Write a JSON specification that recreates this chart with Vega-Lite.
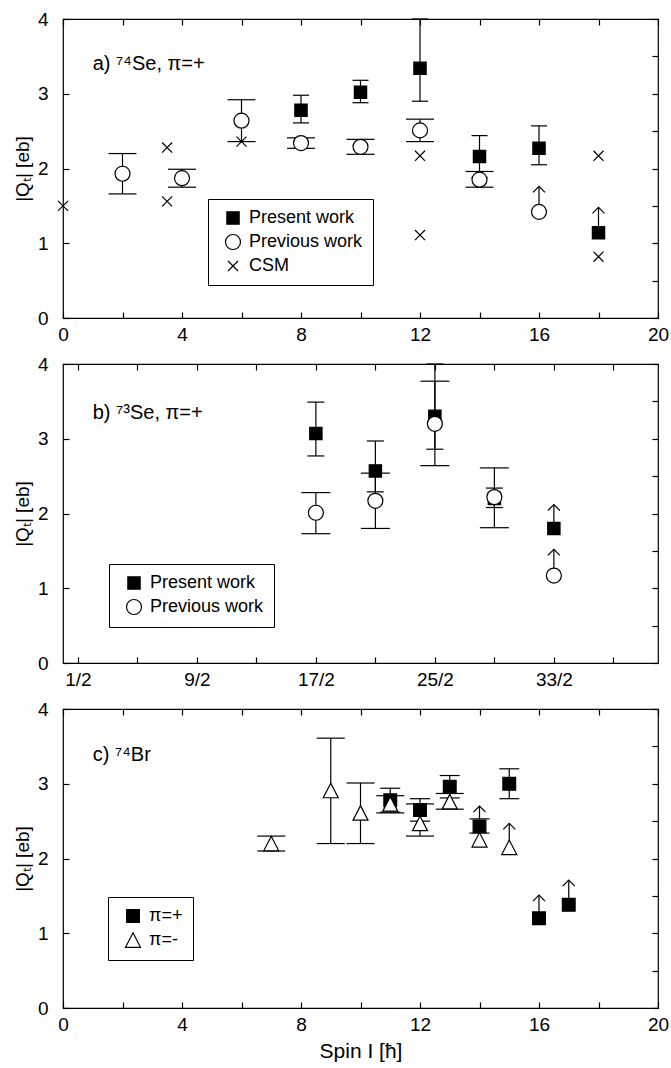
{
  "$schema": "https://vega.github.io/schema/vega-lite/v6.json",
  "background": "white",
  "padding": {"left": 12, "top": 9, "right": 2, "bottom": 0},
  "autosize": {"type": "pad"},
  "spacing": 46,
  "bounds": "flush",
  "resolve": {
    "scale": {"shape": "independent", "fill": "independent", "stroke": "independent"},
    "legend": {"shape": "independent", "fill": "independent", "stroke": "independent"}
  },
  "datasets": {
    "a": [
      {"series": "Present work", "x": 8, "y": 2.78, "lo": 2.61, "hi": 2.98},
      {"series": "Present work", "x": 10, "y": 3.02, "lo": 2.88, "hi": 3.18},
      {"series": "Present work", "x": 12, "y": 3.34, "lo": 2.9, "hi": 4.0},
      {"series": "Present work", "x": 14, "y": 2.16, "lo": 1.88, "hi": 2.44},
      {"series": "Present work", "x": 16, "y": 2.27, "lo": 2.05, "hi": 2.57},
      {"series": "Present work", "x": 18, "y": 1.14, "up": 1.48},
      {"series": "Previous work", "x": 2, "y": 1.93, "lo": 1.66, "hi": 2.2},
      {"series": "Previous work", "x": 4, "y": 1.87, "lo": 1.75, "hi": 1.99},
      {"series": "Previous work", "x": 6, "y": 2.64, "lo": 2.36, "hi": 2.92},
      {"series": "Previous work", "x": 8, "y": 2.34, "lo": 2.27, "hi": 2.41},
      {"series": "Previous work", "x": 10, "y": 2.29, "lo": 2.19, "hi": 2.39},
      {"series": "Previous work", "x": 12, "y": 2.51, "lo": 2.36, "hi": 2.66},
      {"series": "Previous work", "x": 14, "y": 1.85, "lo": 1.75, "hi": 1.96},
      {"series": "Previous work", "x": 16, "y": 1.42, "up": 1.76},
      {"series": "CSM", "x": 0, "y": 1.5},
      {"series": "CSM", "x": 3.5, "y": 2.28},
      {"series": "CSM", "x": 3.5, "y": 1.56},
      {"series": "CSM", "x": 6, "y": 2.36},
      {"series": "CSM", "x": 12, "y": 2.17},
      {"series": "CSM", "x": 12, "y": 1.11},
      {"series": "CSM", "x": 18, "y": 2.17},
      {"series": "CSM", "x": 18, "y": 0.82}
    ],
    "b": [
      {"series": "Present work", "x": 8.5, "y": 3.07, "lo": 2.77, "hi": 3.49},
      {"series": "Present work", "x": 10.5, "y": 2.57, "lo": 2.29, "hi": 2.97},
      {"series": "Present work", "x": 12.5, "y": 3.3, "lo": 2.86, "hi": 4.0},
      {"series": "Present work", "x": 14.5, "y": 2.2, "lo": 2.08, "hi": 2.34},
      {"series": "Present work", "x": 16.5, "y": 1.8, "up": 2.12},
      {"series": "Previous work", "x": 8.5, "y": 2.01, "lo": 1.73, "hi": 2.28},
      {"series": "Previous work", "x": 10.5, "y": 2.17, "lo": 1.8, "hi": 2.54},
      {"series": "Previous work", "x": 12.5, "y": 3.2, "lo": 2.64, "hi": 3.77},
      {"series": "Previous work", "x": 14.5, "y": 2.22, "lo": 1.81, "hi": 2.61},
      {"series": "Previous work", "x": 16.5, "y": 1.17, "up": 1.52}
    ],
    "c": [
      {"series": "π=+", "x": 11, "y": 2.78, "lo": 2.62, "hi": 2.94},
      {"series": "π=+", "x": 12, "y": 2.65, "lo": 2.5, "hi": 2.8},
      {"series": "π=+", "x": 13, "y": 2.96, "lo": 2.81, "hi": 3.11},
      {"series": "π=+", "x": 14, "y": 2.43, "lo": 2.34, "hi": 2.53, "up": 2.7},
      {"series": "π=+", "x": 15, "y": 3.0, "lo": 2.8, "hi": 3.2},
      {"series": "π=+", "x": 16, "y": 1.2, "up": 1.51},
      {"series": "π=+", "x": 17, "y": 1.38, "up": 1.71},
      {"series": "π=-", "x": 7, "y": 2.2, "lo": 2.1, "hi": 2.3},
      {"series": "π=-", "x": 9, "y": 2.91, "lo": 2.2, "hi": 3.61},
      {"series": "π=-", "x": 10, "y": 2.61, "lo": 2.2, "hi": 3.01},
      {"series": "π=-", "x": 11, "y": 2.73, "lo": 2.61, "hi": 2.84},
      {"series": "π=-", "x": 12, "y": 2.47, "lo": 2.3, "hi": 2.73},
      {"series": "π=-", "x": 13, "y": 2.76, "lo": 2.66, "hi": 2.87},
      {"series": "π=-", "x": 14, "y": 2.25},
      {"series": "π=-", "x": 15, "y": 2.15, "up": 2.47}
    ]
  },
  "vconcat": [
    {
      "width": 595, "height": 299,
      "data": {"name": "a"},
      "resolve": {"axis": {"x": "independent", "y": "independent"}},
      "layer": [
        {
          "transform": [{"filter": "isValid(datum.lo)"}],
          "mark": {"type": "rule", "stroke": "black", "strokeWidth": 1.2},
          "encoding": {
            "x": {"field": "x", "type": "quantitative", "scale": {"domain": [0, 20], "nice": false}, "axis": {"orient": "bottom", "title": null, "values": [0,2,4,6,8,10,12,14,16,18,20], "labelExpr": "datum.value % 4 == 0 ? datum.label : ''"}},
            "y": {"field": "lo", "type": "quantitative", "scale": {"domain": [0, 4], "nice": false}, "axis": {"orient": "left", "title": "|Qₜ| [eb]", "format": "d", "values": [0,0.5,1,1.5,2,2.5,3,3.5,4], "labelExpr": "datum.value % 1 == 0 ? datum.label : ''"}},
            "y2": {"field": "hi"}
          }
        },
        {
          "transform": [{"filter": "datum.series == 'Present work'"}, {"fold": ["lo", "hi"], "as": ["end", "v"]}, {"filter": "isValid(datum.v)"}],
          "mark": {"type": "tick", "orient": "horizontal", "thickness": 1.2, "size": 16, "color": "black", "opacity": 1},
          "encoding": {
            "x": {"field": "x", "type": "quantitative", "axis": {"orient": "top", "title": null, "labels": false, "values": [0,2,4,6,8,10,12,14,16,18,20]}},
            "y": {"field": "v", "type": "quantitative", "axis": {"orient": "right", "title": null, "labels": false, "values": [0,0.5,1,1.5,2,2.5,3,3.5,4]}}
          }
        },
        {
          "transform": [{"filter": "datum.series == 'Previous work'"}, {"fold": ["lo", "hi"], "as": ["end", "v"]}, {"filter": "isValid(datum.v)"}],
          "mark": {"type": "tick", "orient": "horizontal", "thickness": 1.2, "size": 28, "color": "black", "opacity": 1},
          "encoding": {
            "x": {"field": "x", "type": "quantitative", "axis": null},
            "y": {"field": "v", "type": "quantitative", "axis": null}
          }
        },
        {
          "transform": [{"filter": "isValid(datum.up)"}],
          "mark": {"type": "rule", "stroke": "black", "strokeWidth": 1.2},
          "encoding": {
            "x": {"field": "x", "type": "quantitative", "axis": null},
            "y": {"field": "y", "type": "quantitative", "axis": null},
            "y2": {"field": "up"}
          }
        },
        {
          "transform": [{"filter": "isValid(datum.up)"}],
          "mark": {"type": "point", "shape": "M-1,1L0,0L1,1", "size": 144, "filled": false, "stroke": "black", "strokeWidth": 1.2, "opacity": 1},
          "encoding": {
            "x": {"field": "x", "type": "quantitative", "axis": null},
            "y": {"field": "up", "type": "quantitative", "axis": null}
          }
        },
        {
          "mark": {"type": "point", "size": 225, "strokeWidth": 1.2, "opacity": 1},
          "encoding": {
            "x": {"field": "x", "type": "quantitative", "axis": null},
            "y": {"field": "y", "type": "quantitative", "axis": null},
            "shape": {"field": "series", "type": "nominal", "scale": {"domain": ["Present work", "Previous work", "CSM"], "range": ["M-0.82,-0.82L0.82,-0.82L0.82,0.82L-0.82,0.82Z", "circle", "M-0.67,-0.67L0.67,0.67M-0.67,0.67L0.67,-0.67"]}, "legend": {"orient": "none", "legendX": 145, "legendY": 180, "title": null}},
            "fill": {"field": "series", "type": "nominal", "scale": {"domain": ["Present work", "Previous work", "CSM"], "range": ["black", "white", "transparent"]}, "legend": {"orient": "none", "legendX": 145, "legendY": 180, "title": null}},
            "stroke": {"field": "series", "type": "nominal", "scale": {"domain": ["Present work", "Previous work", "CSM"], "range": ["black", "black", "black"]}, "legend": {"orient": "none", "legendX": 145, "legendY": 180, "title": null}}
          }
        },
        {
          "data": {"values": [{"x": 1.0, "y": 3.4, "label": "a) ⁷⁴Se, π=+"}]},
          "mark": {"type": "text", "align": "left", "baseline": "middle", "fontSize": 20, "font": "Liberation Sans", "color": "black"},
          "encoding": {
            "x": {"field": "x", "type": "quantitative", "axis": null},
            "y": {"field": "y", "type": "quantitative", "axis": null},
            "text": {"field": "label"}
          }
        }
      ]
    },
    {
      "width": 595, "height": 299,
      "data": {"name": "b"},
      "resolve": {"axis": {"x": "independent", "y": "independent"}},
      "layer": [
        {
          "transform": [{"filter": "isValid(datum.lo)"}],
          "mark": {"type": "rule", "stroke": "black", "strokeWidth": 1.2},
          "encoding": {
            "x": {"field": "x", "type": "quantitative", "scale": {"domain": [0, 20], "nice": false}, "axis": {"orient": "bottom", "title": null, "values": [0.5,2.5,4.5,6.5,8.5,10.5,12.5,14.5,16.5,18.5], "labelExpr": "(datum.value - 0.5) % 4 == 0 ? (datum.value * 2) + '/2' : ''"}},
            "y": {"field": "lo", "type": "quantitative", "scale": {"domain": [0, 4], "nice": false}, "axis": {"orient": "left", "title": "|Qₜ| [eb]", "format": "d", "values": [0,0.5,1,1.5,2,2.5,3,3.5,4], "labelExpr": "datum.value % 1 == 0 ? datum.label : ''"}},
            "y2": {"field": "hi"}
          }
        },
        {
          "transform": [{"filter": "datum.series == 'Present work'"}, {"fold": ["lo", "hi"], "as": ["end", "v"]}, {"filter": "isValid(datum.v)"}],
          "mark": {"type": "tick", "orient": "horizontal", "thickness": 1.2, "size": 17, "color": "black", "opacity": 1},
          "encoding": {
            "x": {"field": "x", "type": "quantitative", "axis": {"orient": "top", "title": null, "labels": false, "values": [0.5,2.5,4.5,6.5,8.5,10.5,12.5,14.5,16.5,18.5]}},
            "y": {"field": "v", "type": "quantitative", "axis": {"orient": "right", "title": null, "labels": false, "values": [0,0.5,1,1.5,2,2.5,3,3.5,4]}}
          }
        },
        {
          "transform": [{"filter": "datum.series == 'Previous work'"}, {"fold": ["lo", "hi"], "as": ["end", "v"]}, {"filter": "isValid(datum.v)"}],
          "mark": {"type": "tick", "orient": "horizontal", "thickness": 1.2, "size": 29, "color": "black", "opacity": 1},
          "encoding": {
            "x": {"field": "x", "type": "quantitative", "axis": null},
            "y": {"field": "v", "type": "quantitative", "axis": null}
          }
        },
        {
          "transform": [{"filter": "isValid(datum.up)"}],
          "mark": {"type": "rule", "stroke": "black", "strokeWidth": 1.2},
          "encoding": {
            "x": {"field": "x", "type": "quantitative", "axis": null},
            "y": {"field": "y", "type": "quantitative", "axis": null},
            "y2": {"field": "up"}
          }
        },
        {
          "transform": [{"filter": "isValid(datum.up)"}],
          "mark": {"type": "point", "shape": "M-1,1L0,0L1,1", "size": 144, "filled": false, "stroke": "black", "strokeWidth": 1.2, "opacity": 1},
          "encoding": {
            "x": {"field": "x", "type": "quantitative", "axis": null},
            "y": {"field": "up", "type": "quantitative", "axis": null}
          }
        },
        {
          "mark": {"type": "point", "size": 225, "strokeWidth": 1.2, "opacity": 1},
          "encoding": {
            "x": {"field": "x", "type": "quantitative", "axis": null},
            "y": {"field": "y", "type": "quantitative", "axis": null},
            "shape": {"field": "series", "type": "nominal", "scale": {"domain": ["Present work", "Previous work"], "range": ["M-0.82,-0.82L0.82,-0.82L0.82,0.82L-0.82,0.82Z", "circle"]}, "legend": {"orient": "none", "legendX": 46, "legendY": 200, "title": null}},
            "fill": {"field": "series", "type": "nominal", "scale": {"domain": ["Present work", "Previous work"], "range": ["black", "white"]}, "legend": {"orient": "none", "legendX": 46, "legendY": 200, "title": null}},
            "stroke": {"field": "series", "type": "nominal", "scale": {"domain": ["Present work", "Previous work"], "range": ["black", "black"]}, "legend": {"orient": "none", "legendX": 46, "legendY": 200, "title": null}}
          }
        },
        {
          "data": {"values": [{"x": 1.0, "y": 3.35, "label": "b) ⁷³Se, π=+"}]},
          "mark": {"type": "text", "align": "left", "baseline": "middle", "fontSize": 20, "font": "Liberation Sans", "color": "black"},
          "encoding": {
            "x": {"field": "x", "type": "quantitative", "axis": null},
            "y": {"field": "y", "type": "quantitative", "axis": null},
            "text": {"field": "label"}
          }
        }
      ]
    },
    {
      "width": 595, "height": 299,
      "data": {"name": "c"},
      "resolve": {"axis": {"x": "independent", "y": "independent"}},
      "layer": [
        {
          "transform": [{"filter": "isValid(datum.lo)"}],
          "mark": {"type": "rule", "stroke": "black", "strokeWidth": 1.2},
          "encoding": {
            "x": {"field": "x", "type": "quantitative", "scale": {"domain": [0, 20], "nice": false}, "axis": {"orient": "bottom", "title": "Spin I [ħ]", "titleFontSize": 21, "values": [0,2,4,6,8,10,12,14,16,18,20], "labelExpr": "datum.value % 4 == 0 ? datum.label : ''"}},
            "y": {"field": "lo", "type": "quantitative", "scale": {"domain": [0, 4], "nice": false}, "axis": {"orient": "left", "title": "|Qₜ| [eb]", "format": "d", "values": [0,0.5,1,1.5,2,2.5,3,3.5,4], "labelExpr": "datum.value % 1 == 0 ? datum.label : ''"}},
            "y2": {"field": "hi"}
          }
        },
        {
          "transform": [{"filter": "datum.series == 'π=+'"}, {"fold": ["lo", "hi"], "as": ["end", "v"]}, {"filter": "isValid(datum.v)"}],
          "mark": {"type": "tick", "orient": "horizontal", "thickness": 1.2, "size": 20, "color": "black", "opacity": 1},
          "encoding": {
            "x": {"field": "x", "type": "quantitative", "axis": {"orient": "top", "title": null, "labels": false, "values": [0,2,4,6,8,10,12,14,16,18,20]}},
            "y": {"field": "v", "type": "quantitative", "axis": {"orient": "right", "title": null, "labels": false, "values": [0,0.5,1,1.5,2,2.5,3,3.5,4]}}
          }
        },
        {
          "transform": [{"filter": "datum.series == 'π=-'"}, {"fold": ["lo", "hi"], "as": ["end", "v"]}, {"filter": "isValid(datum.v)"}],
          "mark": {"type": "tick", "orient": "horizontal", "thickness": 1.2, "size": 28, "color": "black", "opacity": 1},
          "encoding": {
            "x": {"field": "x", "type": "quantitative", "axis": null},
            "y": {"field": "v", "type": "quantitative", "axis": null}
          }
        },
        {
          "transform": [{"filter": "isValid(datum.up)"}],
          "mark": {"type": "rule", "stroke": "black", "strokeWidth": 1.2},
          "encoding": {
            "x": {"field": "x", "type": "quantitative", "axis": null},
            "y": {"field": "y", "type": "quantitative", "axis": null},
            "y2": {"field": "up"}
          }
        },
        {
          "transform": [{"filter": "isValid(datum.up)"}],
          "mark": {"type": "point", "shape": "M-1,1L0,0L1,1", "size": 144, "filled": false, "stroke": "black", "strokeWidth": 1.2, "opacity": 1},
          "encoding": {
            "x": {"field": "x", "type": "quantitative", "axis": null},
            "y": {"field": "up", "type": "quantitative", "axis": null}
          }
        },
        {
          "mark": {"type": "point", "size": 225, "strokeWidth": 1.2, "opacity": 1},
          "encoding": {
            "x": {"field": "x", "type": "quantitative", "axis": null},
            "y": {"field": "y", "type": "quantitative", "axis": null},
            "shape": {"field": "series", "type": "nominal", "scale": {"domain": ["π=+", "π=-"], "range": ["M-0.85,-0.85L0.85,-0.85L0.85,0.85L-0.85,0.85Z", "M0,-0.97L1,0.97L-1,0.97Z"]}, "legend": {"orient": "none", "legendX": 45, "legendY": 188, "title": null}},
            "fill": {"field": "series", "type": "nominal", "scale": {"domain": ["π=+", "π=-"], "range": ["black", "white"]}, "legend": {"orient": "none", "legendX": 45, "legendY": 188, "title": null}},
            "stroke": {"field": "series", "type": "nominal", "scale": {"domain": ["π=+", "π=-"], "range": ["black", "black"]}, "legend": {"orient": "none", "legendX": 45, "legendY": 188, "title": null}}
          }
        },
        {
          "data": {"values": [{"x": 1.0, "y": 3.38, "label": "c) ⁷⁴Br"}]},
          "mark": {"type": "text", "align": "left", "baseline": "middle", "fontSize": 20, "font": "Liberation Sans", "color": "black"},
          "encoding": {
            "x": {"field": "x", "type": "quantitative", "axis": null},
            "y": {"field": "y", "type": "quantitative", "axis": null},
            "text": {"field": "label"}
          }
        }
      ]
    }
  ],
  "config": {
    "font": "Liberation Sans",
    "view": {"stroke": "black", "strokeWidth": 1.2},
    "axis": {
      "grid": false, "domain": false, "tickSize": -6, "tickColor": "black", "tickWidth": 1.2,
      "labelFontSize": 19, "labelColor": "black", "labelFont": "Liberation Sans", "labelFlush": false, "labelOverlap": false,
      "titleFontSize": 19, "titleFont": "Liberation Sans", "titleFontWeight": "normal", "titleColor": "black"
    },
    "axisX": {"labelPadding": 13, "titlePadding": 6},
    "axisY": {"labelPadding": 21, "titlePadding": 5},
    "legend": {
      "labelFontSize": 18, "labelFont": "Liberation Sans", "labelColor": "black",
      "strokeColor": "black", "fillColor": "white", "padding": 10, "rowPadding": 5,
      "symbolOffset": 6, "labelOffset": 7, "symbolSize": 225, "symbolStrokeWidth": 1.2
    }
  }
}
